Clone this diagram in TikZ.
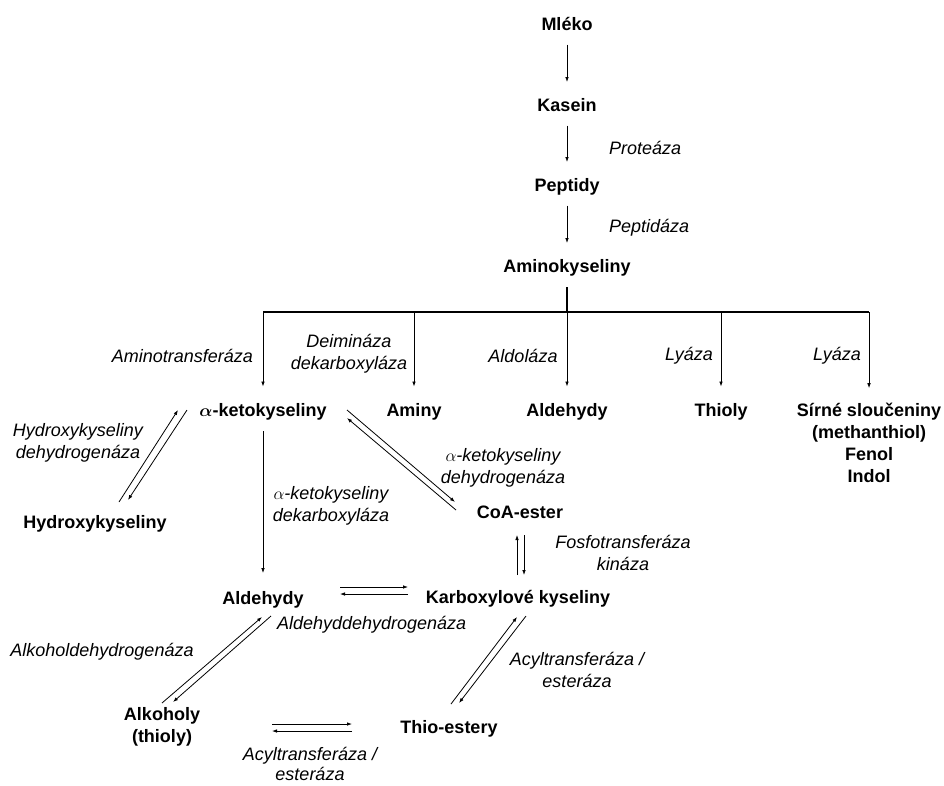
\documentclass[tikz,border=0pt]{standalone}
\usepackage{bm}
\usepackage{fontspec}
\setmainfont{Liberation Sans}
\usetikzlibrary{arrows.meta}
\begin{document}
\begin{tikzpicture}[x=1pt,y=-1pt,
  every node/.style={inner sep=0pt, outer sep=0pt},
  chem/.style={font=\fontsize{18}{22}\selectfont\bfseries, text height=13pt, text depth=4pt},
  chemml/.style={font=\fontsize{18}{22}\selectfont\bfseries, align=center},
  enz/.style={font=\fontsize{18}{22}\selectfont\itshape, align=center},
  arr/.style={line width=0.8pt, -{Latex[length=5pt,width=3.6pt]}},
  stepdown/.style={arr, shorten <=10pt, shorten >=16.5pt},
  branch/.style={arr, shorten >=17pt},
  stub/.style={line width=2pt},
  bar/.style={line width=1.5pt}]
\useasboundingbox (0,0) rectangle (944,785);

% main chain
\node[chem] (mleko)   at (567,26)  {Mléko};
\node[chem] (kasein)  at (567,107) {Kasein};
\node[chem] (peptidy) at (567,187) {Peptidy};
\node[chem] (amino)   at (567,268) {Aminokyseliny};
\node[enz, anchor=west] (proteaza)  at (609,148) {Proteáza};
\node[enz, anchor=west] (peptidaza) at (609,228) {Peptidáza};
\draw[stepdown] (mleko) -- (kasein);
\draw[stepdown] (kasein) -- (peptidy);
\draw[stepdown] (peptidy) -- (amino);

% branching
\coordinate (hub) at (567,312);
\coordinate (b1) at (263,312);
\coordinate (b2) at (414,312);
\coordinate (b3) at (567,312);
\coordinate (b4) at (721,312);
\coordinate (b5) at (869,312);
\draw[stub, shorten <=10.5pt] (amino) -- (hub);
\draw[bar] (b1) -- (b5);

\node[chem] (alpha)  at (263,412) {$\bm{\alpha}$-ketokyseliny};
\node[chem] (aminy)  at (414,412) {Aminy};
\node[chem] (ald1)   at (567,412) {Aldehydy};
\node[chem] (thioly) at (721,412) {Thioly};
\node[chemml] (sirne) at (869,443) {Sírné sloučeniny\\(methanthiol)\\Fenol\\Indol};

\draw[branch] (b1) -- (alpha);
\draw[branch] (b2) -- (aminy);
\draw[branch] (b3) -- (ald1);
\draw[branch] (b4) -- (thioly);
\draw[branch, shorten >=15pt] (b5) -- (sirne.north);

\node[enz, anchor=east] (aminotr) at (253,356) {Aminotransferáza};
\node[enz] (deimin) at (349,354) {Deimináza\\dekarboxyláza};
\node[enz] (aldol)  at (523,356) {Aldoláza};
\node[enz] (lyaza1) at (689,356) {Lyáza};
\node[enz] (lyaza2) at (837,356) {Lyáza};

% hydroxy acids
\node[chem] (hydroxy) at (95,524) {Hydroxykyseliny};
\node[enz] (hydrdeh) at (78,443) {Hydroxykyseliny\\dehydrogenáza};
\coordinate (hx1) at (119,502); \coordinate (hx2) at (178,410);
\coordinate (hx3) at (187,410); \coordinate (hx4) at (128,500);
\draw[arr] (hx1) -- (hx2);
\draw[arr] (hx3) -- (hx4);

% CoA-ester
\node[chem] (coa) at (520,514) {CoA-ester};
\node[enz] (akdeh) at (503,468) {$\alpha$-ketokyseliny\\dehydrogenáza};
\coordinate (ac1) at (347,410); \coordinate (ac2) at (455,502);
\coordinate (ac3) at (456,510); \coordinate (ac4) at (347,418);
\draw[arr] (ac1) -- (ac2);
\draw[arr] (ac3) -- (ac4);

% decarboxylation
\node[chem] (ald2) at (263,600) {Aldehydy};
\node[enz] (akdek) at (331,506) {$\alpha$-ketokyseliny\\dekarboxyláza};
\draw[arr, shorten <=10.5pt, shorten >=18.5pt] (alpha) -- (ald2);

% carboxylic acids
\node[chem] (karb) at (518,599) {Karboxylové kyseliny};
\node[enz] (fosfo) at (623,553) {Fosfotransferáza\\kináza};
\coordinate (ck1) at (517,575); \coordinate (ck2) at (517,535);
\coordinate (ck3) at (524,535); \coordinate (ck4) at (524,575);
\draw[arr] (ck1) -- (ck2);
\draw[arr] (ck3) -- (ck4);

\coordinate (ak1) at (340,587); \coordinate (ak2) at (408,587);
\coordinate (ak3) at (408,594); \coordinate (ak4) at (340,594);
\draw[arr] (ak1) -- (ak2);
\draw[arr] (ak3) -- (ak4);
\node[enz, anchor=west] (alddeh) at (277,625) {Aldehyddehydrogenáza};

% alcohols
\node[chemml] (alk) at (162,727) {Alkoholy\\(thioly)};
\node[enz] (alkdeh) at (102,652) {Alkoholdehydrogenáza};
\coordinate (al1) at (162,703); \coordinate (al2) at (262,617);
\coordinate (al3) at (271,616); \coordinate (al4) at (173,702);
\draw[arr] (al1) -- (al2);
\draw[arr] (al3) -- (al4);

% thio-esters
\node[chem] (thioest) at (449,729) {Thio-estery};
\node[enz] (acyl1) at (577,670) {Acyltransferáza /\\esteráza};
\coordinate (kt1) at (451,704); \coordinate (kt2) at (517,617);
\coordinate (kt3) at (526,616); \coordinate (kt4) at (459,703);
\draw[arr] (kt1) -- (kt2);
\draw[arr] (kt3) -- (kt4);

\node[enz, font=\fontsize{18}{20}\selectfont\itshape] (acyl2) at (310,764) {Acyltransferáza /\\esteráza};
\coordinate (at1) at (272,724); \coordinate (at2) at (352,724);
\coordinate (at3) at (352,731); \coordinate (at4) at (272,731);
\draw[arr] (at1) -- (at2);
\draw[arr] (at3) -- (at4);
\end{tikzpicture}
\end{document}
